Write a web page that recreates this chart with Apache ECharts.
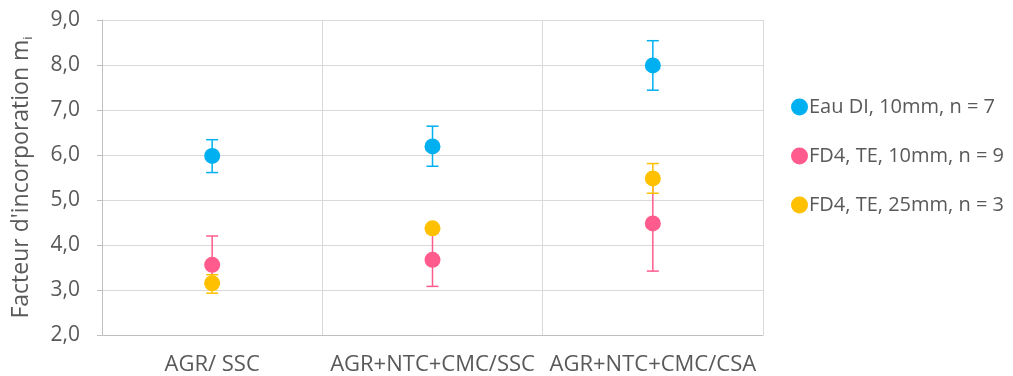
<!DOCTYPE html>
<html>
<head>
<meta charset="utf-8">
<script src="https://cdn.jsdelivr.net/npm/echarts@6/dist/echarts.min.js"></script>
<style>
  html, body { margin: 0; padding: 0; background: #fff; }
  #chart { width: 1013px; height: 376px; }
</style>
</head>
<body>
<div id="chart"></div>
<script>
// données
var categories = ['AGR/ SSC', 'AGR+NTC+CMC/SSC', 'AGR+NTC+CMC/CSA'];
var seriesNames = ['Eau DI, 10mm, n = 7', 'FD4, TE, 10mm, n = 9', 'FD4, TE, 25mm, n = 3'];
var colors = ['#00B0F0', '#FF5C8D', '#FFC000'];

var eauMean = [5.98, 6.19, 7.99];
var eauLow = [5.61, 5.75, 7.44];
var eauHigh = [6.34, 6.64, 8.54];

var fd10Mean = [3.56, 3.67, 4.48];
var fd10Low = [3.16, 3.08, 3.42];
var fd10High = [4.20, 4.26, 5.54];

var fd25Mean = [3.15, 4.37, 5.48];
var fd25Low = [2.93, 4.32, 5.15];
var fd25High = [3.34, 4.42, 5.81];

var yTicks = [2, 3, 4, 5, 6, 7, 8, 9];

(function () {
    var myChart = echarts.init(document.getElementById('chart'));
    var font = 'Open Sans';
    var textColor = '#595959';

    // barres d'erreur (trait vertical + deux chapeaux)
    function errorSeries(name, color, low, high) {
        var data = low.map(function (v, i) { return [i, v, high[i]]; });
        return {
            name: name,
            type: 'custom',
            z: 2,
            silent: true,
            renderItem: function (params, api) {
                var x = api.value(0);
                var lo = api.coord([x, api.value(1)]);
                var hi = api.coord([x, api.value(2)]);
                var cap = 6;
                var style = { stroke: color, lineWidth: 1.5 };
                return {
                    type: 'group',
                    children: [
                        { type: 'line', shape: { x1: lo[0], y1: lo[1], x2: hi[0], y2: hi[1] }, style: style },
                        { type: 'line', shape: { x1: lo[0] - cap, y1: lo[1], x2: lo[0] + cap, y2: lo[1] }, style: style },
                        { type: 'line', shape: { x1: hi[0] - cap, y1: hi[1], x2: hi[0] + cap, y2: hi[1] }, style: style }
                    ]
                };
            },
            encode: { x: 0, y: [1, 2] },
            data: data
        };
    }

    function pointSeries(name, color, values, z) {
        return {
            name: name,
            type: 'scatter',
            symbol: 'circle',
            symbolSize: 16,
            z: z,
            itemStyle: { color: color, opacity: 1 },
            data: values.map(function (v, i) { return [i, v]; })
        };
    }

    var option = {
        animation: false,
        color: colors,
        grid: { left: 102, right: 250, top: 20, bottom: 40 },
        legend: {
            orient: 'vertical',
            left: 786,
            top: 92,
            itemGap: 29,
            itemWidth: 17,
            itemHeight: 17,
            icon: 'circle',
            data: seriesNames,
            textStyle: { color: textColor, fontSize: 20, fontFamily: font, padding: [0, 0, 0, -4] }
        },
        xAxis: {
            type: 'category',
            data: categories,
            boundaryGap: true,
            axisLine: { lineStyle: { color: '#BFBFBF' } },
            axisTick: { show: false },
            splitLine: { show: true, lineStyle: { color: '#D9D9D9' } },
            axisLabel: { color: textColor, fontSize: 22, fontFamily: font, margin: 19, interval: 0 }
        },
        yAxis: {
            type: 'value',
            min: 2,
            max: 9,
            interval: 1,
            name: "{a|Facteur d'incorporation m}{b|i}",
            nameLocation: 'middle',
            nameGap: 67,
            nameTextStyle: {
                rich: {
                    a: { color: textColor, fontSize: 23, fontFamily: font },
                    b: { color: textColor, fontSize: 13, fontFamily: font, verticalAlign: 'bottom', padding: [14, 0, 0, 0] }
                }
            },
            axisLine: { show: true, lineStyle: { color: '#BFBFBF' } },
            axisTick: { show: true, length: 5, lineStyle: { color: '#BFBFBF' } },
            splitLine: { show: true, lineStyle: { color: '#D9D9D9' } },
            axisLabel: {
                color: textColor, fontSize: 21, fontFamily: font, margin: 22,
                formatter: function (v) { return v.toFixed(1).replace('.', ','); }
            }
        },
        series: [
            errorSeries(seriesNames[0], colors[0], eauLow, eauHigh),
            pointSeries(seriesNames[0], colors[0], eauMean, 3),
            errorSeries(seriesNames[1], colors[1], fd10Low, fd10High),
            pointSeries(seriesNames[1], colors[1], fd10Mean, 3),
            errorSeries(seriesNames[2], colors[2], fd25Low, fd25High),
            pointSeries(seriesNames[2], colors[2], fd25Mean, 4)
        ]
    };
    myChart.setOption(option);

    window.addEventListener('resize', function () {
        myChart.resize();
    });
})();
</script>
</body>
</html>
